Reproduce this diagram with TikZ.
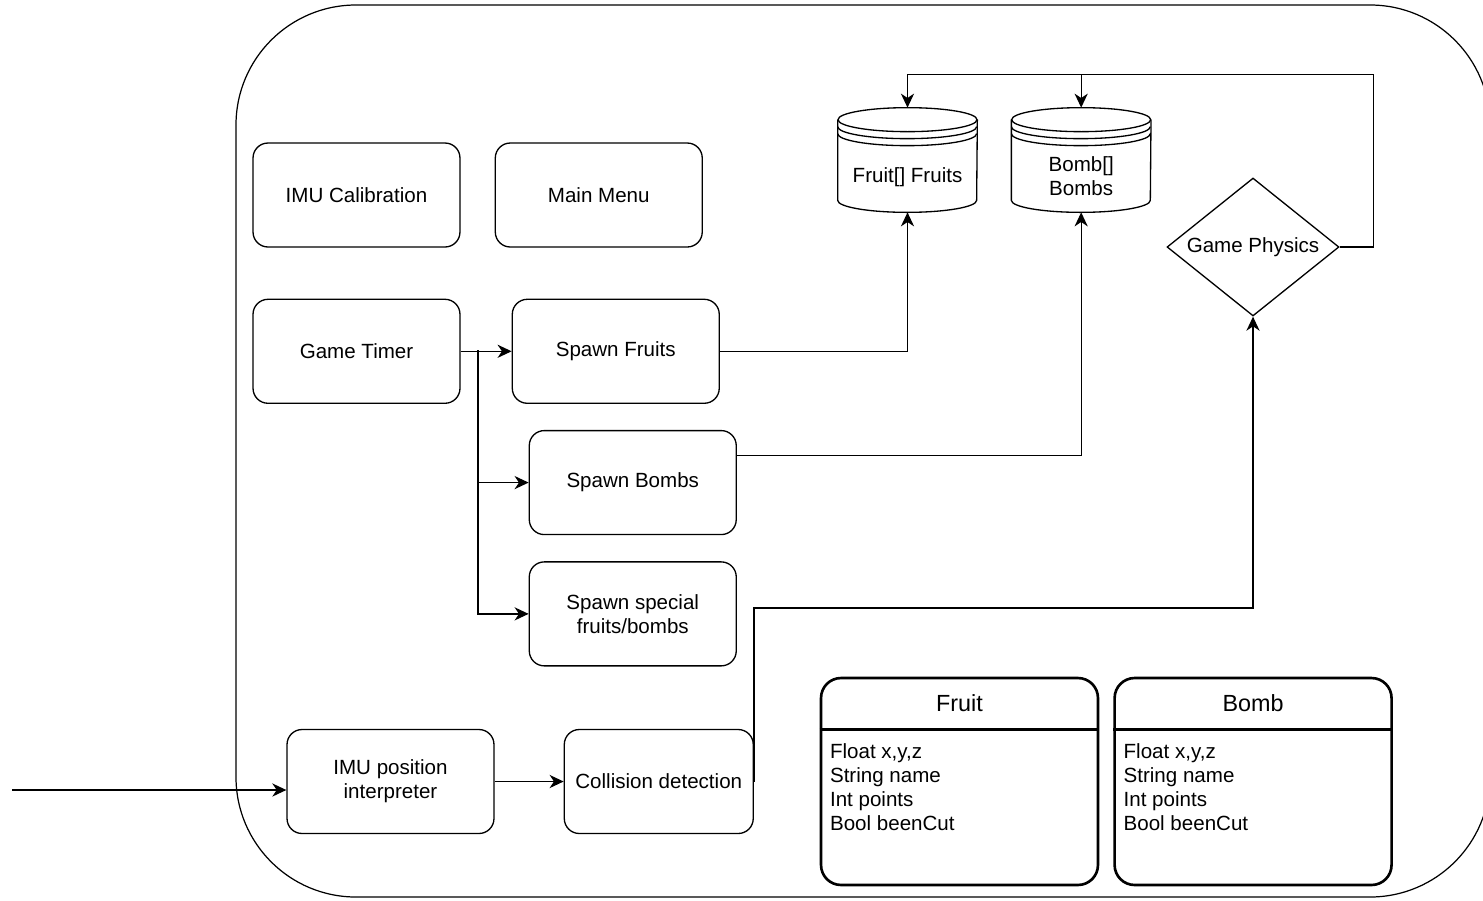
\documentclass[tikz,border=0pt]{standalone}
\usepackage{fontspec}
\setmainfont{Liberation Sans}
\usetikzlibrary{shapes.geometric,arrows.meta,positioning,calc}
\newcommand{\dfont}{\fontsize{11.7}{13.6}\selectfont}
\newcommand{\hfont}{\fontsize{13.3}{16}\selectfont}
\tikzset{
  procbox/.style  = {rectangle, draw=black, line width=0.75pt,
                     rounded corners=0.3cm, minimum width=4.14cm,
                     minimum height=2.08cm, align=center,
                     font=\dfont, inner sep=2pt},
  storebox/.style = {rectangle, minimum width=2.78cm,
                     minimum height=2.08cm, inner sep=0pt},
  decbox/.style   = {diamond, draw=black, line width=0.75pt, aspect=1.25,
                     minimum width=3.44cm, minimum height=2.76cm,
                     inner sep=0pt, font=\dfont},
  classbox/.style = {rectangle, draw=black, line width=1.5pt,
                     rounded corners=0.4cm, minimum width=5.54cm,
                     minimum height=4.14cm},
  classhead/.style= {minimum height=1.04cm, font=\hfont, inner sep=0pt},
  attrtext/.style = {align=left, font=\dfont, inner sep=0pt,
                     anchor=north west},
  plainline/.style= {line width=0.75pt},
  myarrow/.style  = {-{Stealth[length=8pt,width=7.5pt,inset=2.5pt]},
                     line width=0.75pt},
}
% data store: body, top ellipse and two rims
\newcommand{\drawstore}[1]{%
  \draw[plainline] ($(#1.north west)+(0,-0.24cm)$)
    -- ($(#1.south west)+(0,0.24cm)$)
    arc[start angle=180, end angle=360, x radius=1.39cm, y radius=0.24cm]
    -- ($(#1.north east)+(0,-0.24cm)$);
  \draw[plainline] ($(#1.north)+(0,-0.24cm)$)
    ellipse [x radius=1.39cm, y radius=0.24cm];
  \foreach \dy in {0.38,0.52}
    \draw[plainline] ($(#1.north west)+(0,-\dy cm)$)
      arc[start angle=180, end angle=360, x radius=1.39cm, y radius=0.24cm];
}

\begin{document}
\begin{tikzpicture}[x=0.02cm, y=0.02cm]
  \clip (0,0) rectangle (1483,-900);

  %% ---- System boundary ----
  \draw[line width=0.7pt, rounded corners=2.4cm] (236,-5) rectangle (1490,-897);

  %% ---- Left block ----
  \node[procbox] (imucal) at (356.5,-195) {IMU Calibration};
  \node[procbox, right=0.68cm of imucal] (mainmenu) {Main Menu};
  \node[procbox, below=1.02cm of imucal] (timer) {Game Timer};
  \node[procbox, right=1.02cm of timer] (sfruits) {Spawn Fruits};
  \node[procbox, below=0.52cm of sfruits, xshift=0.34cm]
        (sbombs) {Spawn Bombs};
  \node[procbox, below=0.52cm of sbombs]
        (sspecial) {Spawn special\\fruits/bombs};

  %% ---- Input row ----
  \node[procbox] (imupos) at (390.5,-781.5) {IMU position\\interpreter};
  \node[procbox, minimum width=3.78cm, right=1.38cm of imupos]
        (colldet) {Collision detection};
  \coordinate (extin) at (12,-790);

  %% ---- Data stores ----
  \node[storebox] (fruitsdb) at (907.5,-160) {};
  \node[storebox, right=0.68cm of fruitsdb] (bombsdb) {};
  \drawstore{fruitsdb}
  \drawstore{bombsdb}
  \node[font=\dfont, align=center] (fruitslbl)
        at ([yshift=-0.34cm]fruitsdb.center) {Fruit[] Fruits};
  \node[font=\dfont, align=center] (bombslbl)
        at ([yshift=-0.32cm]bombsdb.center) {Bomb[]\\Bombs};

  %% ---- Physics ----
  \node[decbox] (physics) at (1253,-247) {Game Physics};

  %% ---- Classes ----
  \node[classbox] (fruitcls) at (959.5,-781.5) {};
  \node[classbox, right=0.28cm of fruitcls] (bombcls) {};
  \node[classhead, anchor=north] (fruithd) at (fruitcls.north) {Fruit};
  \node[classhead, anchor=north] (bombhd) at (bombcls.north) {Bomb};
  \draw[line width=1.5pt] (fruitcls.west |- fruithd.south)
        -- (fruitcls.east |- fruithd.south);
  \draw[line width=1.5pt] (bombcls.west |- bombhd.south)
        -- (bombcls.east |- bombhd.south);
  \node[attrtext] (fruitattr)
        at ([shift={(0.2cm,-0.28cm)}]fruitcls.west |- fruithd.south)
        {Float x,y,z\\String name\\Int points\\Bool beenCut};
  \node[attrtext] (bombattr)
        at ([shift={(0.2cm,-0.28cm)}]bombcls.west |- bombhd.south)
        {Float x,y,z\\String name\\Int points\\Bool beenCut};

  %% ---- Arrows: timer fan-out ----
  \coordinate (split) at (478,-350);
  \draw[myarrow] (timer.east) -- (sfruits.west);
  \draw[myarrow] (split) |- (sbombs.west);
  \draw[myarrow] (split) |- (sspecial.west);

  %% ---- Arrows: spawners -> stores ----
  \draw[myarrow] (sfruits.east) -| (fruitsdb.south);
  \draw[myarrow] ([yshift=0.54cm]sbombs.east) -| (bombsdb.south);

  %% ---- Arrows: input path ----
  \draw[myarrow] (extin) -- (extin -| imupos.west);
  \draw[myarrow] (imupos.east) -- (colldet.west);
  \draw[myarrow] (colldet.east) -- ++(0,3.47cm) -| (physics.south);

  %% ---- Physics -> stores ----
  \draw[myarrow] (physics.east) -- ++(0.68cm,0)
        |- ([yshift=0.66cm]fruitsdb.north) -- (fruitsdb.north);
  \draw[myarrow] ([yshift=0.66cm]bombsdb.north) -- (bombsdb.north);

\end{tikzpicture}
\end{document}
